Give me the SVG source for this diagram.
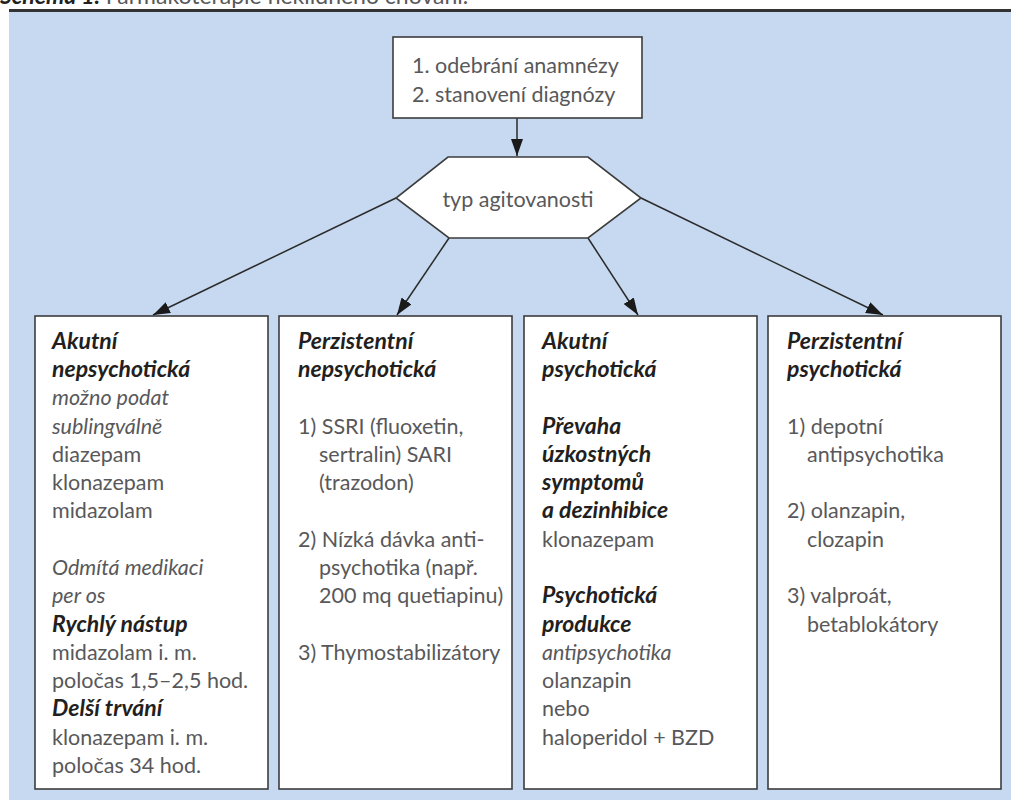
<svg xmlns="http://www.w3.org/2000/svg" width="1011" height="807" viewBox="0 0 1011 807">
<style>
text{font-family:Lato,"Open Sans","Liberation Sans",sans-serif;font-size:21.5px;fill:#58585a}
.h{font-weight:bold;font-style:italic;fill:#231f20;font-size:23px}
.i{font-style:italic}
.box{fill:#fff;stroke:#3c3c3c;stroke-width:1.6}
.c{stroke:#2a2a2a;stroke-width:1.5;fill:none;marker-end:url(#ah)}
</style>
<defs>
<marker id="ah" markerUnits="userSpaceOnUse" markerWidth="18" markerHeight="12" refX="17" refY="6" orient="auto">
<path d="M0,0 L17,6 L0,12 z" fill="#1a1a1a"/>
</marker>
</defs>
<rect x="0" y="0" width="1011" height="807" fill="#fff"/>
<text x="0" y="4" style="font-size:23px"><tspan class="h">Schéma 1.</tspan> Farmakoterapie neklidného chování.</text>
<rect x="9" y="12" width="1002" height="788" fill="#c6d9f0"/>
<rect x="9" y="9" width="1002" height="3" fill="#333"/>

<g id="connectors">
<line class="c" x1="517" y1="118" x2="517" y2="156"/>
<line class="c" x1="396" y1="198" x2="153" y2="315"/>
<line class="c" x1="449" y1="238" x2="397" y2="315"/>
<line class="c" x1="588" y1="238" x2="638" y2="315"/>
<line class="c" x1="641" y1="198" x2="883" y2="315"/>
</g>

<g id="start">
<rect class="box" x="393" y="37" width="249" height="81"/>
<text x="412" y="73">1. odebrání anamnézy</text>
<text x="412" y="102">2. stanovení diagnózy</text>
</g>

<g id="decision">
<polygon class="box" points="448,157 588,157 641,198 588,238 449,238 396,198"/>
<text x="518" y="207" text-anchor="middle">typ agitovanosti</text>
</g>

<g id="box1">
<rect class="box" x="35" y="316" width="233" height="473"/>
<text class="h" x="52" y="349">Akutní</text>
<text class="h" x="52" y="377">nepsychotická</text>
<text class="i" x="52" y="405">možno podat</text>
<text class="i" x="52" y="434">sublingválně</text>
<text x="52" y="462">diazepam</text>
<text x="52" y="490">klonazepam</text>
<text x="52" y="518">midazolam</text>
<text class="i" x="52" y="575">Odmítá medikaci</text>
<text class="i" x="52" y="603">per os</text>
<text class="h" x="52" y="632">Rychlý nástup</text>
<text x="52" y="660">midazolam i. m.</text>
<text x="52" y="688">poločas 1,5–2,5 hod.</text>
<text class="h" x="52" y="716">Delší trvání</text>
<text x="52" y="745">klonazepam i. m.</text>
<text x="52" y="773">poločas 34 hod.</text>
</g>

<g id="box2">
<rect class="box" x="279" y="316" width="233" height="473"/>
<text class="h" x="298" y="349">Perzistentní</text>
<text class="h" x="298" y="377">nepsychotická</text>
<text x="298" y="434">1) SSRI (fluoxetin,</text>
<text x="319" y="462">sertralin) SARI</text>
<text x="319" y="490">(trazodon)</text>
<text x="298" y="547">2) Nízká dávka anti-</text>
<text x="319" y="575">psychotika (např.</text>
<text x="319" y="603">200 mq quetiapinu)</text>
<text x="298" y="660">3) Thymostabilizátory</text>
</g>

<g id="box3">
<rect class="box" x="524" y="316" width="233" height="473"/>
<text class="h" x="542" y="349">Akutní</text>
<text class="h" x="542" y="377">psychotická</text>
<text class="h" x="542" y="434">Převaha</text>
<text class="h" x="542" y="462">úzkostných</text>
<text class="h" x="542" y="490">symptomů</text>
<text class="h" x="542" y="518">a dezinhibice</text>
<text x="542" y="547">klonazepam</text>
<text class="h" x="542" y="603">Psychotická</text>
<text class="h" x="542" y="632">produkce</text>
<text class="i" x="542" y="660">antipsychotika</text>
<text x="542" y="688">olanzapin</text>
<text x="542" y="716">nebo</text>
<text x="542" y="745">haloperidol + BZD</text>
</g>

<g id="box4">
<rect class="box" x="768" y="316" width="233" height="473"/>
<text class="h" x="787" y="349">Perzistentní</text>
<text class="h" x="787" y="377">psychotická</text>
<text x="787" y="434">1) depotní</text>
<text x="807" y="462">antipsychotika</text>
<text x="787" y="518">2) olanzapin,</text>
<text x="807" y="547">clozapin</text>
<text x="787" y="603">3) valproát,</text>
<text x="807" y="632">betablokátory</text>
</g>
</svg>
